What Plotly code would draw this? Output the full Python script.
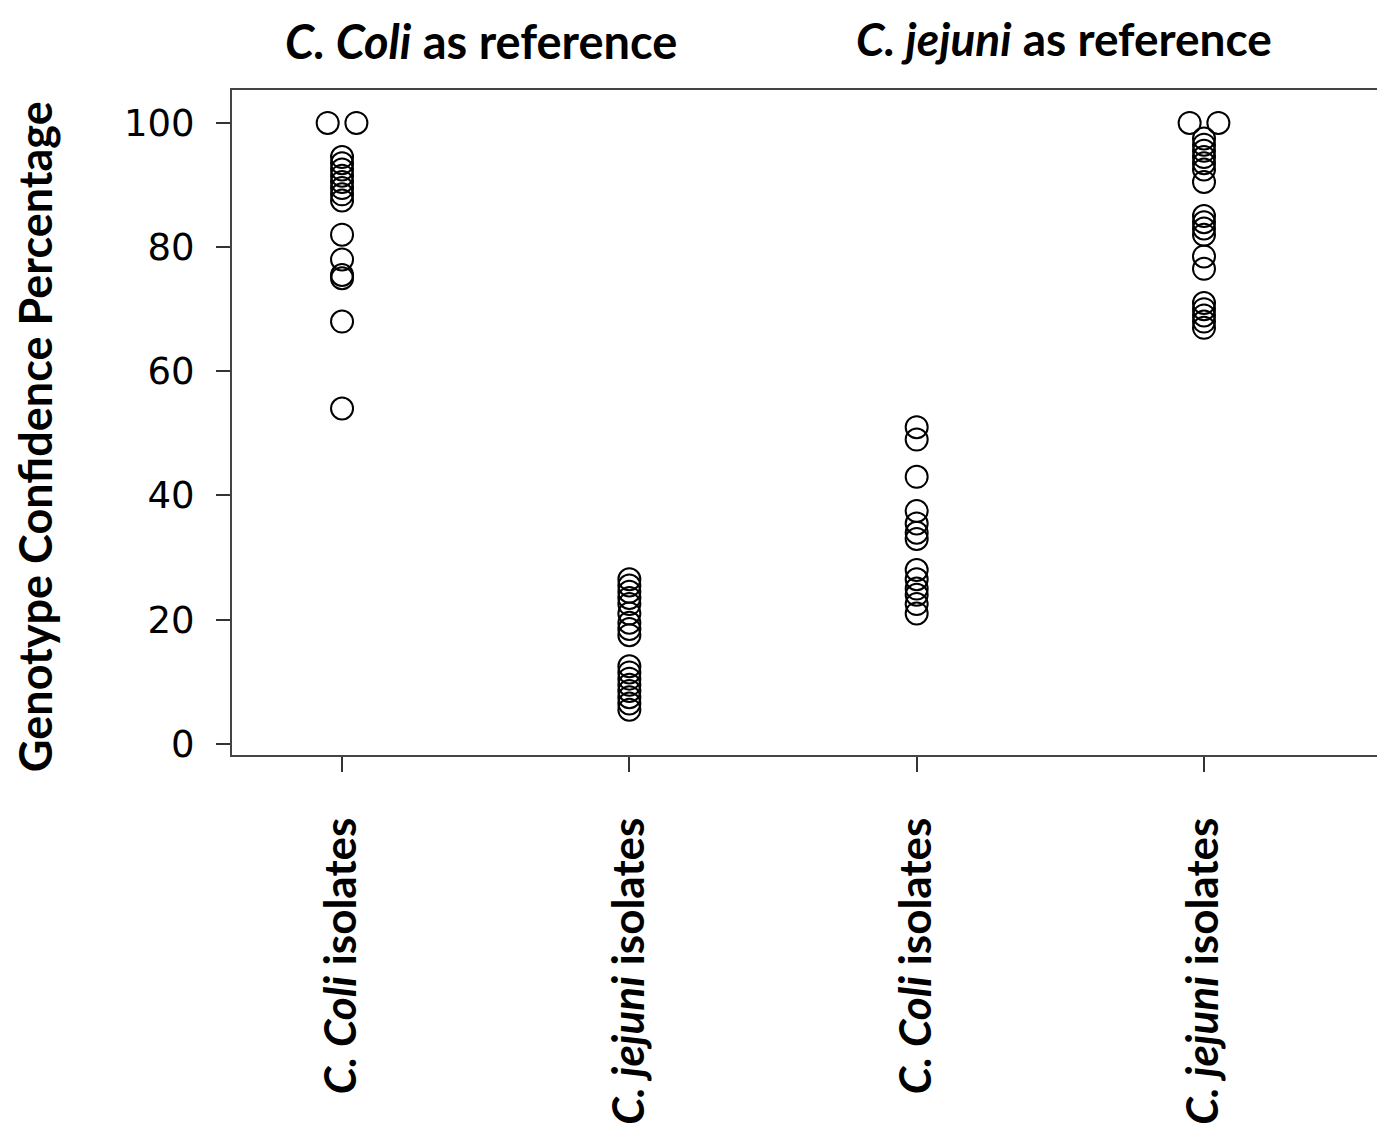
import plotly.graph_objects as go
from collections import Counter

categories = ["<b><i>C. Coli</i> isolates</b>", "<b><i>C. jejuni</i> isolates</b>",
              "<b><i>C. Coli</i> isolates</b>", "<b><i>C. jejuni</i> isolates</b>"]

coli_ref_coli = [100, 100, 94.5, 93.5, 92.5, 91.5, 90.5, 89.5, 88.5, 87.5, 82, 78, 75.5, 75, 68, 54]
coli_ref_jejuni = [26.5, 25.5, 24.5, 23.5, 22.5, 21, 19.5, 18.5, 17.5,
                   12.5, 11.5, 10.5, 9.5, 8.5, 7.5, 6.5, 5.5]
jejuni_ref_coli = [51, 49, 43, 37.5, 35.5, 34, 33, 28, 26.5, 25, 24, 22.5, 21]
jejuni_ref_jejuni = [100, 100, 97.5, 96.5, 95.5, 94.5, 93.5, 92.5, 90.5,
                     85, 84, 83, 82, 78.5, 76.5, 71, 70, 69, 68, 67]

series = [coli_ref_coli, coli_ref_jejuni, jejuni_ref_coli, jejuni_ref_jejuni]
y_ticks = [0, 20, 40, 60, 80, 100]

xs, ys = [], []
for i, vals in enumerate(series):
    counts = Counter(vals)
    seen = Counter()
    for v in vals:
        n = counts[v]
        k = seen[v]
        seen[v] += 1
        off = (k - (n - 1) / 2) * 0.1 if n > 1 else 0.0
        xs.append(i + 1 + off)
        ys.append(v)

fig = go.Figure()
fig.add_trace(go.Scatter(
    x=xs, y=ys, mode="markers",
    marker=dict(symbol="circle-open", size=22, color="black", line=dict(width=2, color="black")),
    showlegend=False, hoverinfo="y"))

W, H = 1377, 1130
L, R, T = 224, 2, 82
B = H - 747
PH = H - T - B
fig.update_layout(
    width=W, height=H,
    paper_bgcolor="white", plot_bgcolor="white",
    margin=dict(l=L, r=R, t=T, b=B, autoexpand=False),
    font=dict(family="DejaVu Sans", color="black"),
)
fig.update_xaxes(
    range=[0.617, 4.623], tickmode="array", tickvals=[1, 2, 3, 4], ticktext=categories,
    tickangle=-90, ticks="outside", ticklen=15, tickwidth=2, tickcolor="#333",
    ticklabelstandoff=28,
    tickfont=dict(family="Lato", size=44, color="black"),
    showline=True, linecolor="#444", linewidth=2, mirror=True, showgrid=False, zeroline=False)
fig.update_yaxes(
    range=[-1.8, 105.3], tickmode="array", tickvals=y_ticks, ticktext=[str(t) for t in y_ticks],
    ticks="outside", ticklen=14, tickwidth=2, tickcolor="#333",
    ticklabelstandoff=14,
    tickfont=dict(family="DejaVu Sans", size=37, color="black"),
    showline=True, linecolor="#444", linewidth=2, mirror=True, showgrid=False, zeroline=False)

fig.add_annotation(text="<b>Genotype Confidence Percentage</b>", xref="paper", yref="paper",
                   x=(27 - L) / (W - L - R), y=0.478, textangle=-90, showarrow=False,
                   xanchor="center", yanchor="middle",
                   font=dict(family="Lato", size=45, color="black"))
fig.add_annotation(text="<b><i>C. Coli</i> as reference</b>", xref="x", yref="paper",
                   x=1.483, y=1.0 + (T - 3) / PH, showarrow=False, yanchor="top",
                   font=dict(family="Lato", size=47, color="black"))
fig.add_annotation(text="<b><i>C. jejuni</i> as reference</b>", xref="x", yref="paper",
                   x=3.514, y=1.0 + (T - 1) / PH, showarrow=False, yanchor="top",
                   font=dict(family="Lato", size=46, color="black"))

fig.write_html("out.html")
